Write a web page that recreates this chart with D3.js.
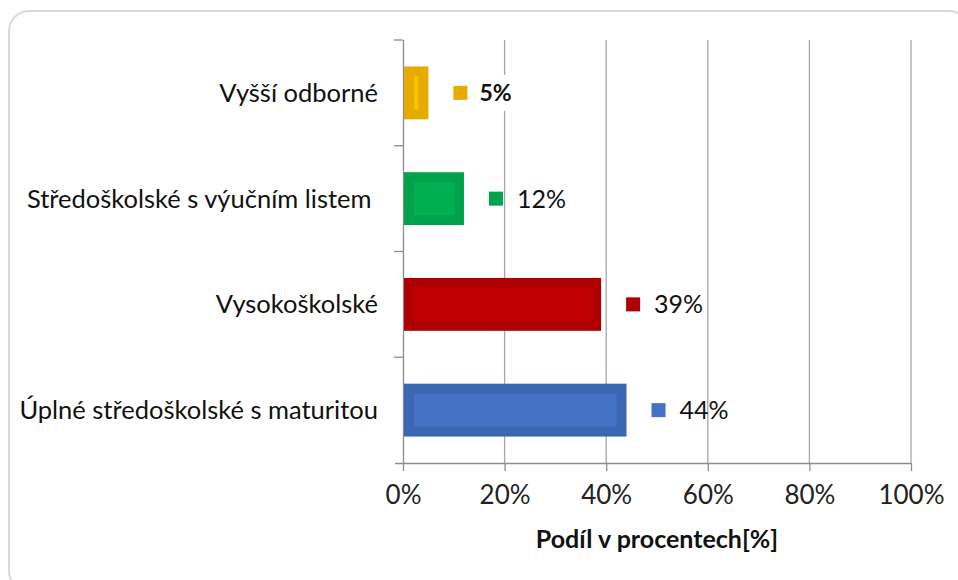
<!DOCTYPE html>
<html><head><meta charset="utf-8">
<script src="https://cdn.jsdelivr.net/npm/d3@7"></script>
<style>body{margin:0;background:#fff;}svg{display:block;font-family:Lato, "Open Sans", sans-serif;}</style>
</head><body>
<svg id="c" width="958" height="580"></svg>
<script>
const categories = ["Vyšší odborné", "Středoškolské s výučním listem ", "Vysokoškolské", "Úplné středoškolské s maturitou"];
const values = [0.05, 0.12, 0.39, 0.44];
const labels = ["5%", "12%", "39%", "44%"];
const outerColors = ["#E6AB00", "#00A24C", "#AE0000", "#3B66B1"];
const innerColors = ["#FFC000", "#00B050", "#C00000", "#4472C4"];
const xTicks = [0, 0.2, 0.4, 0.6, 0.8, 1.0];
const xTitle = "Podíl v procentech[%]";

const svg = d3.select("#c");
svg.append("rect").attr("x", 9).attr("y", 11).attr("width", 960).attr("height", 580)
  .attr("rx", 20).attr("fill", "#fff").attr("stroke", "#d9d9d9").attr("stroke-width", 2);

const x = d3.scaleLinear().domain([0, 1]).range([403, 911]);
const y = d3.scaleBand().domain(categories).range([40, 463]).paddingInner(0.5).paddingOuter(0.25);

// gridlines
svg.append("g").selectAll("line").data(xTicks.slice(1)).join("line")
  .attr("x1", d => x(d)).attr("x2", d => x(d)).attr("y1", 40).attr("y2", 463)
  .attr("stroke", "#a6a6a6").attr("stroke-width", 1.3);

// x axis
const xa = svg.append("g").attr("transform", "translate(0,463)")
  .call(d3.axisBottom(x).tickValues(xTicks).tickFormat(d3.format(".0%")).tickSize(8).tickPadding(15));
xa.select(".domain").attr("stroke", "#8c8c8c").attr("stroke-width", 1.3).attr("d", "M395,0.5H911");
xa.selectAll(".tick line").attr("stroke", "#8c8c8c").attr("stroke-width", 1.3);
xa.selectAll(".tick text").attr("font-size", 26).attr("fill", "#222").attr("font-family", "Lato, sans-serif");

// y axis
const step = y.step();
const ya = svg.append("g").attr("transform", "translate(403,0)")
  .call(d3.axisLeft(y).tickSize(0).tickPadding(25));
ya.select(".domain").attr("stroke", "#8c8c8c").attr("stroke-width", 1.3).attr("d", "M0.5,40V463");
ya.selectAll(".tick text").attr("font-size", 25.5).attr("fill", "#111").attr("font-family", "Lato, sans-serif")
  .attr("dy", "0.35em").attr("x", -25).style("white-space", "pre");
// boundary ticks
const bounds = [40].concat(categories.map(c => y(c) - y.bandwidth() / 2 + step));
svg.append("g").selectAll("line").data(bounds.slice(0, 4)).join("line")
  .attr("x1", 394).attr("x2", 403).attr("y1", d => d).attr("y2", d => d)
  .attr("stroke", "#8c8c8c").attr("stroke-width", 1.3);

// bars
const bars = svg.append("g").selectAll("g").data(categories).join("g");
bars.append("rect").attr("x", x(0) + 1).attr("y", c => y(c)).attr("height", y.bandwidth())
  .attr("width", (c, i) => x(values[i]) - x(0) - 1).attr("fill", (c, i) => outerColors[i]);
bars.append("rect").attr("x", x(0) + 11).attr("y", c => y(c) + 10).attr("height", y.bandwidth() - 20)
  .attr("width", (c, i) => Math.max(0, x(values[i]) - x(0) - 21)).attr("fill", (c, i) => innerColors[i]);

// data labels
const lab = svg.append("g").selectAll("g").data(categories).join("g")
  .attr("transform", (c, i) => `translate(${x(values[i])},${y(c) + y.bandwidth() / 2})`);
lab.filter((c, i) => i === 0).append("rect").attr("x", 22).attr("y", -18).attr("width", 64).attr("height", 36).attr("fill", "#fff");
lab.append("rect").attr("x", 25).attr("y", -7).attr("width", 14).attr("height", 14)
  .attr("fill", (c, i) => i === 3 ? innerColors[i] : outerColors[i]);
lab.append("text").attr("x", (c, i) => i === 0 ? 51 : 53).attr("dy", "0.36em")
  .attr("font-size", (c, i) => i === 0 ? 23 : 25).attr("font-weight", (c, i) => i === 0 ? "bold" : "normal")
  .attr("fill", "#111").text((c, i) => labels[i]);

svg.append("text").attr("x", 657).attr("y", 548).attr("text-anchor", "middle")
  .attr("font-size", 25).attr("font-weight", "bold").attr("fill", "#111").text(xTitle);
</script>
</body></html>
